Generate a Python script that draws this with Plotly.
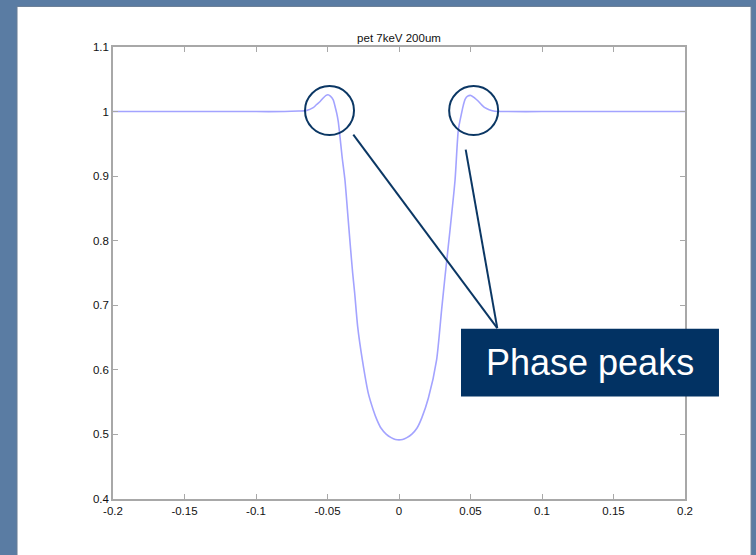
import plotly.graph_objects as go

# Transmitted intensity profile across the fibre (pet, 7 keV, 200 um)
pos = [-0.2, -0.1, -0.08, -0.07, -0.065, -0.06, -0.0576, -0.055, -0.053, -0.051,
       -0.0497, -0.048, -0.046, -0.0445, -0.0436, -0.0425, -0.0417, -0.0398,
       -0.0378, -0.0359, -0.034, -0.0324, -0.031, -0.0289, -0.0256, -0.0215,
       -0.018, -0.0155, -0.0125, -0.009, -0.0055, -0.0025, 0.0,
       0.0025, 0.0055, 0.009, 0.0125, 0.016, 0.0205, 0.0263, 0.0298, 0.0322,
       0.0357, 0.0392, 0.0415, 0.0438, 0.045, 0.0462, 0.048, 0.0503, 0.053,
       0.0555, 0.058, 0.060, 0.063, 0.067, 0.075, 0.1, 0.2]
intensity = [1.0, 1.0, 1.0, 1.0008, 1.0015, 1.006, 1.011, 1.016, 1.021, 1.025,
             1.026, 1.024, 1.018, 1.006, 0.998, 0.985, 0.97, 0.93,
             0.894, 0.843, 0.791, 0.75, 0.719, 0.667, 0.615, 0.564,
             0.538, 0.523, 0.5095, 0.5005, 0.495, 0.4922, 0.4915,
             0.4922, 0.495, 0.5005, 0.5095, 0.526, 0.556, 0.6155, 0.693, 0.745,
             0.817, 0.894, 0.972, 0.998, 1.010, 1.019, 1.024, 1.025, 1.021,
             1.016, 1.010, 1.006, 1.003, 1.0005, 1.0, 1.0, 1.0]

x_ticks = [-0.2, -0.15, -0.1, -0.05, 0, 0.05, 0.1, 0.15, 0.2]
x_labels = ["-0.2", "-0.15", "-0.1", "-0.05", "0", "0.05", "0.1", "0.15", "0.2"]
y_ticks = [0.4, 0.5, 0.6, 0.7, 0.8, 0.9, 1.0, 1.1]
y_labels = ["0.4", "0.5", "0.6", "0.7", "0.8", "0.9", "1", "1.1"]

# Peak positions that get circled
peak_x = [-0.0486, 0.0522]
peak_y = [1.0016, 1.0016]

title_text = "pet 7keV 200um"
callout_text = "Phase peaks"

NAVY = "#0b3764"
BOX = "#023263"
LABEL_FONT = dict(family="Liberation Sans, Arial", size=11.5, color="#111111")

fig = go.Figure()
fig.add_trace(go.Scatter(x=pos, y=intensity, mode="lines",
                         line=dict(color="#a3a3ff", width=1.6,
                                   shape="spline", smoothing=0.6),
                         hoverinfo="skip", showlegend=False))

shapes = [
    # white slide panel
    dict(type="rect", xref="paper", yref="paper", layer="below",
         x0=-0.1678, x1=1.1155, y0=-0.2, y1=1.0897,
         fillcolor="white", line=dict(color="#6a7f96", width=1)),
]
for px, py in zip(peak_x, peak_y):
    shapes.append(dict(type="circle", xref="x", yref="y",
                       xsizemode="pixel", ysizemode="pixel",
                       xanchor=px, yanchor=py,
                       x0=-24.5, x1=24.5, y0=-24.5, y1=24.5,
                       line=dict(color=NAVY, width=2)))
# pointer lines from the circles to the callout box
shapes.append(dict(type="line", xref="paper", yref="paper",
                   x0=0.4201, y0=0.8062, x1=0.6718, y1=0.378,
                   line=dict(color=NAVY, width=2)))
shapes.append(dict(type="line", xref="paper", yref="paper",
                   x0=0.6166, y0=0.773, x1=0.6718, y1=0.378,
                   line=dict(color=NAVY, width=2)))
# callout box
shapes.append(dict(type="rect", xref="paper", yref="paper",
                   x0=0.6084, x1=1.0594, y0=0.2266, y1=0.3765,
                   fillcolor=BOX, line=dict(width=0)))

fig.update_layout(
    width=756, height=555,
    margin=dict(l=113, r=71, t=47, b=56),
    paper_bgcolor="#5a7ca3",
    plot_bgcolor="white",
    shapes=shapes,
    title=dict(text=title_text, x=0.5, xref="paper", xanchor="center",
               y=1 - 38 / 555, yref="container", yanchor="middle",
               font=LABEL_FONT),
    annotations=[dict(text=callout_text, xref="paper", yref="paper",
                      x=0.834, y=0.301, showarrow=False,
                      xanchor="center", yanchor="middle",
                      font=dict(family="Liberation Sans, Arial", size=36, color="white"))],
    font=LABEL_FONT,
)
axis_style = dict(showgrid=False, zeroline=False, showline=True,
                  linecolor="#a8a8a8", linewidth=1.5, mirror="ticks",
                  ticks="inside", ticklen=5, tickcolor="#a8a8a8", tickwidth=1,
                  tickfont=LABEL_FONT)
fig.update_xaxes(range=[-0.2, 0.2], tickvals=x_ticks, ticktext=x_labels, **axis_style)
fig.update_yaxes(range=[0.4, 1.1], tickvals=y_ticks, ticktext=y_labels, **axis_style)

fig.write_html("out.html")
